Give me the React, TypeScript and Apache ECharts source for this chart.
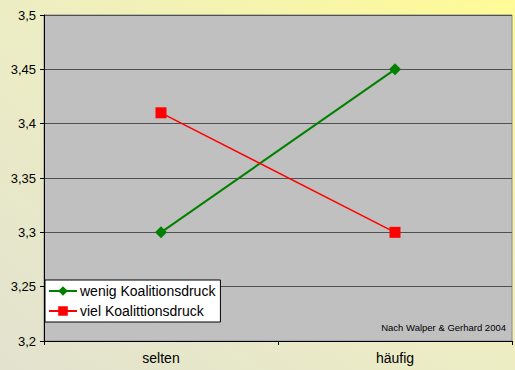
import React, { useEffect, useRef } from "react";
import * as echarts from "echarts";

const categories = ["selten", "häufig"];
const wenig = [3.3, 3.45];
const viel = [3.41, 3.3];
const seriesNames = ["wenig Koalitionsdruck", "viel Koalittionsdruck"];
const sourceNote = "Nach Walper & Gerhard 2004";

export default function App() {
  const ref = useRef<HTMLDivElement>(null);
  useEffect(() => {
    const chart = echarts.init(ref.current!, null, { renderer: "svg" });
    chart.setOption({
      animation: false,
      backgroundColor: new echarts.graphic.LinearGradient(0, 1, 1, 0, [
        { offset: 0, color: "#e2e2cf" },
        { offset: 0.5, color: "#ededc4" },
        { offset: 1, color: "#fffb96" },
      ]),
      textStyle: { fontFamily: "Liberation Sans, Arial, sans-serif" },
      grid: {
        left: 44,
        right: 3,
        top: 15,
        bottom: 29,
        show: true,
        backgroundColor: "#c0c0c0",
        borderColor: "#8a8a8a",
        borderWidth: 1,
      },
      xAxis: {
        type: "category",
        data: categories,
        boundaryGap: true,
        axisLine: { lineStyle: { color: "#000", width: 1 } },
        axisTick: { show: true, length: 4, lineStyle: { color: "#000" } },
        axisLabel: { color: "#000", fontSize: 14, margin: 10 },
      },
      yAxis: {
        type: "value",
        min: 3.2,
        max: 3.5,
        interval: 0.05,
        axisLine: { show: true, lineStyle: { color: "#000", width: 1 } },
        axisTick: { show: true, length: 4, lineStyle: { color: "#000" } },
        axisLabel: {
          color: "#000",
          fontSize: 13,
          margin: 8,
          formatter: (v: number) => parseFloat(v.toFixed(2)).toString().replace(".", ","),
        },
        splitLine: { show: true, lineStyle: { color: "#505050", width: 1 } },
      },
      legend: {
        orient: "vertical",
        left: 45,
        top: 280,
        backgroundColor: "#ffffff",
        borderColor: "#000",
        borderWidth: 1,
        borderRadius: 0,
        padding: [4, 5, 4, 3],
        itemGap: 6,
        itemWidth: 28,
        itemHeight: 12,
        textStyle: { color: "#000", fontSize: 14, padding: [0, 0, 0, -2] },
        data: seriesNames,
      },
      series: [
        {
          name: seriesNames[0],
          type: "line",
          data: wenig,
          symbol: "diamond",
          symbolSize: 12,
          itemStyle: { color: "#008000" },
          lineStyle: { color: "#008000", width: 2 },
        },
        {
          name: seriesNames[1],
          type: "line",
          data: viel,
          symbol: "rect",
          symbolSize: 11,
          itemStyle: { color: "#ff0000" },
          lineStyle: { color: "#ff0000", width: 1.5 },
        },
      ],
      graphic: [
        {
          type: "text",
          right: 9,
          top: 322,
          style: {
            text: sourceNote,
            fill: "#000",
            fontSize: 9.5,
            fontFamily: "Liberation Sans, Arial, sans-serif",
          },
        },
      ],
    });
    return () => chart.dispose();
  }, []);
  return (
    <div
      ref={ref}
      style={{ position: "fixed", left: 0, top: 0, width: 515, height: 370 }}
    />
  );
}
